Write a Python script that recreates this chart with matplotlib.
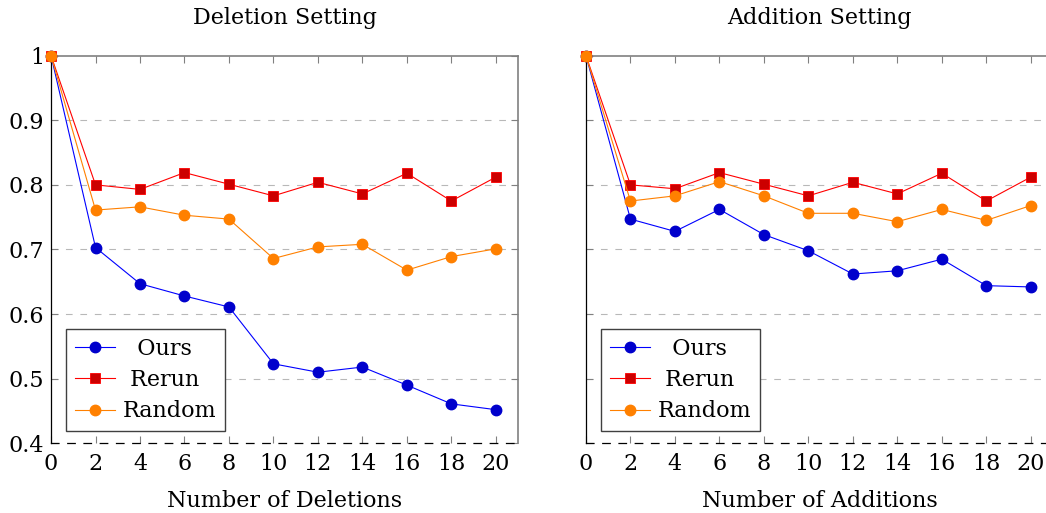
import numpy as np
import matplotlib.pyplot as plt

plt.rcParams['font.family'] = ['DejaVu Serif']

steps = [0, 2, 4, 6, 8, 10, 12, 14, 16, 18, 20]

# deletion setting
del_ours = [1.0, 0.703, 0.647, 0.628, 0.611, 0.523, 0.510, 0.518, 0.490, 0.461, 0.452]
del_rerun = [1.0, 0.800, 0.793, 0.819, 0.801, 0.783, 0.804, 0.786, 0.818, 0.775, 0.812]
del_random = [1.0, 0.761, 0.766, 0.753, 0.747, 0.686, 0.704, 0.708, 0.668, 0.689, 0.701]

# addition setting
add_ours = [1.0, 0.747, 0.728, 0.762, 0.723, 0.698, 0.662, 0.667, 0.685, 0.644, 0.642]
add_rerun = [1.0, 0.800, 0.794, 0.819, 0.801, 0.783, 0.804, 0.786, 0.818, 0.775, 0.812]
add_random = [1.0, 0.775, 0.783, 0.805, 0.783, 0.756, 0.756, 0.743, 0.762, 0.745, 0.768]

yticks = [0.4, 0.5, 0.6, 0.7, 0.8, 0.9, 1.0]
ytick_labels = ['0.4', '0.5', '0.6', '0.7', '0.8', '0.9', '1']

FS = 16
DASH = (0, (6, 7))


def draw_panel(ax, ours, rerun, rand, title, xlabel, show_ylabels):
    ax.plot(steps, ours, color='#0000ff', lw=0.8, marker='o', ms=7.5,
            mfc='#0000cc', mec='#0000cc', label='  Ours', zorder=3, clip_on=False)
    ax.plot(steps, rerun, color='#ff0000', lw=0.8, marker='s', ms=7.2,
            mfc='#cc0000', mec='#ff0000', mew=0.6, label=' Rerun', zorder=3, clip_on=False)
    ax.plot(steps, rand, color='#ff8000', lw=0.8, marker='o', ms=7.5,
            mfc='#ff8000', mec='#ff8000', label='Random', zorder=3, clip_on=False)

    ax.set_xlim(0, 21)
    ax.set_ylim(0.4, 1.0)
    ax.set_xticks(steps)
    ax.set_yticks(yticks)
    if show_ylabels:
        ax.set_yticklabels(ytick_labels)
    else:
        ax.set_yticklabels([])

    for y in yticks[1:-1]:
        ax.axhline(y, color='#b8b8b8', lw=0.8, ls=DASH, zorder=1)

    ax.spines['left'].set_color('black')
    ax.spines['left'].set_linewidth(0.9)
    ax.spines['top'].set_color('#808080')
    ax.spines['top'].set_linewidth(1.2)
    ax.spines['right'].set_color('#808080')
    ax.spines['right'].set_linewidth(1.2)
    ax.spines['bottom'].set_color('black')
    ax.spines['bottom'].set_linewidth(0.9)
    ax.spines['bottom'].set_linestyle(DASH)

    ax.tick_params(axis='both', direction='in', length=5, width=0.8,
                   color='#808080', labelsize=FS)
    ax.tick_params(axis='x', top=True, pad=7)
    ax.tick_params(axis='y', right=True, pad=5)

    ax.set_title(title, fontsize=FS, pad=23)
    ax.set_xlabel(xlabel, fontsize=FS, labelpad=10.5)

    leg = ax.legend(loc='lower left', fontsize=FS, frameon=True, fancybox=False,
                    edgecolor='#404040', handlelength=1.8, handletextpad=0.35,
                    borderpad=0.4, labelspacing=0.42, borderaxespad=0.0,
                    bbox_to_anchor=(0.032, 0.031))
    leg.get_frame().set_linewidth(1.0)
    leg.get_frame().set_alpha(1)


fig = plt.figure(figsize=(10.46, 5.13), dpi=100)
ax1 = fig.add_axes([0.0488, 0.1359, 0.4465, 0.7556])
ax2 = fig.add_axes([0.5602, 0.1359, 0.4465, 0.7556])

draw_panel(ax1, del_ours, del_rerun, del_random, 'Deletion Setting', 'Number of Deletions', True)
draw_panel(ax2, add_ours, add_rerun, add_random, 'Addition Setting', 'Number of Additions', False)

fig.savefig('out.png', dpi=100)
